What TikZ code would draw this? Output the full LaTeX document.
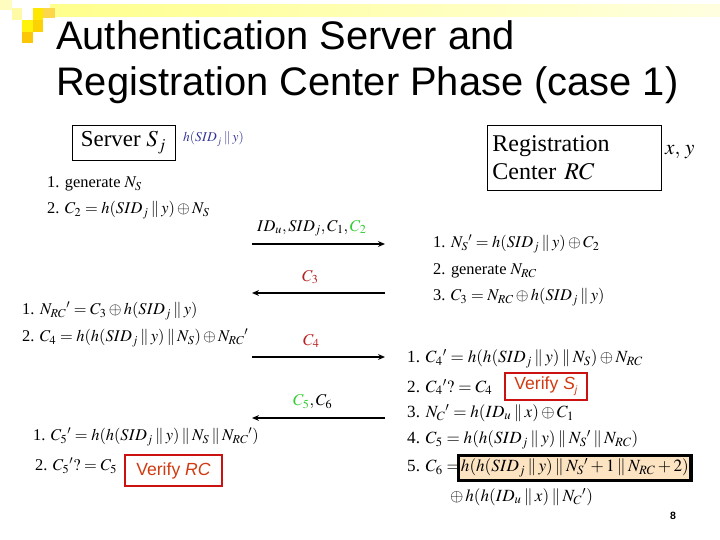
\documentclass[tikz,border=0pt]{standalone}
\usepackage{mathptmx}
\usepackage{fontspec}
\setmainfont{Liberation Serif}
\newfontfamily\arialf{Liberation Sans}
\usetikzlibrary{arrows.meta}
\newcommand{\catop}{\mathbin{\|}}
\definecolor{msggreen}{HTML}{33CC33}
\definecolor{msgred}{HTML}{B22222}
\definecolor{hblue}{HTML}{333399}
\definecolor{verred}{HTML}{CC1111}
\definecolor{vertext}{HTML}{D03A10}
\definecolor{boxfill}{HTML}{FCE3C2}
\begin{document}
\begin{tikzpicture}[x=0.03cm,y=-0.03cm,
  formula/.style={anchor=west,inner sep=0pt,font=\fontsize{14}{16}\selectfont},
  formulab/.style={anchor=west,inner sep=0pt,font=\fontsize{14.6}{17}\selectfont},
  msg/.style={line width=1.3pt,-{Stealth[length=6pt,width=5pt]}},
  verbox/.style={draw=verred,line width=1.6pt,inner xsep=5pt,inner ysep=3pt,text=vertext,font=\arialf\fontsize{15}{17}\selectfont},
  actor/.style={draw,line width=0.7pt,font=\fontsize{20.5}{24}\selectfont}]
\useasboundingbox (0,0) rectangle (720,540);
% decoration
\shade[left color=yellow!45,right color=yellow!12,draw=none] (50,5) rectangle (720,17);
\fill[yellow!25] (0,0) rectangle (12,10);
\fill[yellow!35] (12,8) rectangle (22,20);
\fill[yellow!90!orange] (33,8) rectangle (43,20);
\fill[yellow!60!orange!70] (43,8) rectangle (55,18);
\fill[yellow!95] (22,20) rectangle (33,32);
\fill[yellow!70!orange] (33,20) rectangle (43,32);
\fill[yellow!60!orange] (22,32) rectangle (33,43);
% title
\node[anchor=base west,inner sep=0pt,align=left,font=\arialf\fontsize{34}{40}\selectfont] (title) at (56,96)
  {Authentication Server and\\Registration Center Phase (case 1)};
% actors
\node[actor,minimum width=3.09cm,minimum height=1.05cm,font=\fontsize{19.5}{24}\selectfont] (srv) at (123.5,142.5) {Server $S_j$};
\node[anchor=west,inner sep=0pt,text=hblue,font=\fontsize{11.5}{13}\selectfont] (hs) at (183,139) {$h(SID_j\catop y)$};
\node[actor,text width=4.9cm,inner xsep=0.16cm,minimum height=1.95cm,align=left] (rc) at (574,157.5) {Registration\\Center $RC$};
\node[formula,font=\fontsize{18}{20}\selectfont] (xy) at (665,152) {$x,\,y$};
% server step 1
\node[formula] (s1) at (47,184) {1. generate $N_S$};
\node[formula] (s2) at (47,210) {2. $C_2=h(SID_j\catop y)\oplus N_S$};
% messages
\coordinate (m1a) at (252,244); \coordinate (m1b) at (385,244);
\draw[msg] (m1a) -- (m1b);
\node[formula] (l1) at (257,228) {$ID_u,SID_j,C_1,\textcolor{msggreen}{C_2}$};
\coordinate (m2a) at (385,293); \coordinate (m2b) at (252,293);
\draw[msg] (m2a) -- (m2b);
\node[formula,text=msgred] (l2) at (302,277) {$C_3$};
\coordinate (m3a) at (252,357); \coordinate (m3b) at (385,357);
\draw[msg] (m3a) -- (m3b);
\node[formula,text=msgred!90!red] (l3) at (303,341) {$C_4$};
\coordinate (m4a) at (385,418); \coordinate (m4b) at (252,418);
\draw[msg] (m4a) -- (m4b);
\node[formula] (l4) at (293,402) {$\textcolor{msggreen}{C_5},C_6$};
% RC step 1
\node[formula] (r1) at (433,244) {1. $N_S{}'=h(SID_j\catop y)\oplus C_2$};
\node[formula] (r2) at (433,271) {2. generate $N_{RC}$};
\node[formula] (r3) at (433,297) {3. $C_3=N_{RC}\oplus h(SID_j\catop y)$};
% server step 2
\node[formula] (s3) at (22,311) {1. $N_{RC}{}'=C_3\oplus h(SID_j\catop y)$};
\node[formula] (s4) at (22,338) {2. $C_4=h(h(SID_j\catop y)\catop N_S)\oplus N_{RC}{}'$};
% RC step 2
\node[formulab] (r4) at (407,359) {1. $C_4{}'=h(h(SID_j\catop y)\catop N_S)\oplus N_{RC}$};
\node[formulab] (r5) at (407,387) {2. $C_4{}'?=C_4$};
\node[verbox,minimum width=2.46cm,minimum height=0.81cm] (vs) at (546,386.5) {Verify \textit{S}\raisebox{-0.4ex}{\fontsize{9}{10}\selectfont\textit{j}}};
\node[formulab] (r6) at (407,413) {3. $N_C{}'=h(ID_u\catop x)\oplus C_1$};
\node[formulab] (r7) at (407,440) {4. $C_5=h(h(SID_j\catop y)\catop N_S{}'\catop N_{RC})$};
\node[formulab] (r8) at (407,467) {5. $C_6=$};
\node[draw,line width=2.8pt,fill=boxfill,inner xsep=2pt,inner ysep=3pt,minimum width=6.81cm,anchor=west,font=\fontsize{14.6}{17}\selectfont] (c6) at (457,468)
  {$h(h(SID_j\catop y)\catop N_S{}'+1\catop N_{RC}+2)$};
\node[formulab] (r9) at (450,497) {$\oplus\, h(h(ID_u\catop x)\catop N_C{}')$};
% server step 3
\node[formula] (s5) at (33,437) {1. $C_5{}'=h(h(SID_j\catop y)\catop N_S\catop N_{RC}{}')$};
\node[formula] (s6) at (35,466) {2. $C_5{}'?=C_5$};
\node[verbox,minimum width=2.91cm,minimum height=0.93cm] (vr) at (173.5,470.5) {Verify \textit{RC}};
% page number
\node[inner sep=0pt,font=\arialf\bfseries\fontsize{9}{10}\selectfont] (pg) at (673,516) {8};
\end{tikzpicture}
\end{document}
